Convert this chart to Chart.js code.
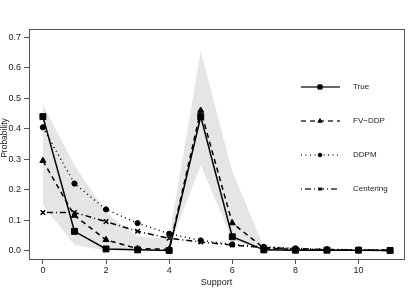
<!DOCTYPE html>
<html>
<head>
<meta charset="utf-8">
<script src="https://cdn.jsdelivr.net/npm/chart.js@4/dist/chart.umd.min.js"></script>
<style>
  html, body { margin: 0; padding: 0; background: #fff; }
  #wrap { width: 419px; height: 297px; }
</style>
</head>
<body>
<div id="wrap"><canvas id="myChart" width="419" height="297"></canvas></div>
<script>
const support = [0, 1, 2, 3, 4, 5, 6, 7, 8, 9, 10, 11];
const trueP = [0.44, 0.063, 0.005, 0.002, 0.0, 0.44, 0.045, 0.002, 0.001, 0.001, 0.001, 0.0];
const fvddp = [0.295, 0.115, 0.035, 0.006, 0.004, 0.46, 0.09, 0.008, 0.003, 0.001, 0.001, 0.0];
const ddpm = [0.405, 0.22, 0.135, 0.09, 0.055, 0.033, 0.02, 0.012, 0.007, 0.004, 0.002, 0.001];
const centering = [0.125, 0.125, 0.095, 0.063, 0.04, 0.028, 0.018, 0.01, 0.006, 0.003, 0.002, 0.001];
const bandUpper = [0.48, 0.28, 0.125, 0.045, 0.04, 0.655, 0.26, 0.012, 0.005, 0.003, 0.002, 0.001];
const bandLower = [0.15, 0.018, 0.0, 0.0, 0.01, 0.28, 0.035, 0.0, 0.0, 0.0, 0.0, 0.0];
const xTicks = [0, 2, 4, 6, 8, 10];
const yTicks = [0.0, 0.1, 0.2, 0.3, 0.4, 0.5, 0.6, 0.7];
const labels = ["True", "FV\u2212DDP", "DDPM", "Centering"];

function pts(vals) {
  return support.map((x, i) => ({ x: x, y: vals[i] }));
}

const series = [
  { data: trueP, style: "rect", radius: 4.2, dash: [] },
  { data: fvddp, style: "triangle", radius: 3.5, dash: [5, 4] },
  { data: ddpm, style: "circle", radius: 2.6, dash: [1, 3.5] },
  { data: centering, style: "crossRot", radius: 3.2, dash: [1, 3, 6, 3] },
];

const datasets = series.map((s, i) => ({
  label: labels[i],
  data: pts(s.data),
  borderColor: "#000",
  backgroundColor: "#000",
  borderWidth: 1.5,
  borderDash: s.dash,
  pointStyle: s.style,
  pointRadius: s.radius,
  pointBorderWidth: s.style === "crossRot" ? 1.5 : 1,
  pointBackgroundColor: "#000",
  pointBorderColor: "#000",
  fill: false,
  tension: 0,
}));

datasets.push({
  label: "upper",
  data: pts(bandUpper),
  borderWidth: 0,
  pointRadius: 0,
  fill: false,
});
datasets.push({
  label: "lower",
  data: pts(bandLower),
  borderWidth: 0,
  pointRadius: 0,
  backgroundColor: "#e5e5e5",
  fill: "-1",
});

const boxPlugin = {
  id: "box",
  afterDraw(chart) {
    const { ctx, chartArea: a } = chart;
    ctx.save();
    ctx.strokeStyle = "#555";
    ctx.lineWidth = 1;
    ctx.strokeRect(Math.round(a.left) + 0.5, Math.round(a.top) + 0.5,
      Math.round(a.right - a.left), Math.round(a.bottom - a.top));

    // axis titles
    ctx.fillStyle = "#222";
    ctx.font = "9px 'Liberation Sans', Arial, sans-serif";
    ctx.textAlign = "center";
    ctx.textBaseline = "middle";
    ctx.fillText("Support", (a.left + a.right) / 2, 283);
    ctx.save();
    ctx.translate(5, 138);
    ctx.rotate(-Math.PI / 2);
    ctx.font = "8.5px 'Liberation Sans', Arial, sans-serif";
    ctx.fillText("Probability", 0, 0);
    ctx.restore();

    // legend
    const rowY = [87, 121, 155, 189];
    ctx.font = "8px 'Liberation Sans', Arial, sans-serif";
    ctx.textAlign = "left";
    series.forEach((s, i) => {
      const y = rowY[i];
      ctx.save();
      ctx.strokeStyle = "#333";
      ctx.lineWidth = 1.5;
      ctx.setLineDash(s.dash);
      ctx.beginPath();
      ctx.moveTo(301, y);
      ctx.lineTo(340, y);
      ctx.stroke();
      ctx.restore();
      ctx.save();
      ctx.fillStyle = "#000";
      ctx.strokeStyle = "#000";
      ctx.lineWidth = s.style === "crossRot" ? 1.3 : 1;
      Chart.helpers.drawPoint(ctx, { pointStyle: s.style, radius: s.radius * 0.7, rotation: 0, borderWidth: ctx.lineWidth }, 320, y);
      ctx.restore();
      ctx.fillStyle = "#222";
      ctx.fillText(labels[i], 353, y);
    });
    ctx.restore();
  },
};

const tickFont = { family: "'Liberation Sans', Arial, sans-serif", size: 9 };

const ctx = document.getElementById("myChart").getContext("2d");
const myChart = new Chart(ctx, {
  type: "line",
  data: { datasets: datasets },
  options: {
    responsive: false,
    animation: false,
    layout: { padding: { top: 29, right: 15, left: 0, bottom: 0 } },
    plugins: {
      legend: { display: false },
      tooltip: { enabled: false },
      filler: { drawTime: "beforeDatasetsDraw" },
    },
    scales: {
      x: {
        type: "linear",
        min: -0.44,
        max: 11.44,
        afterBuildTicks: (s) => { s.ticks = xTicks.map((v) => ({ value: v })); },
        afterFit: (s) => { s.height = 38; },
        ticks: { color: "#222", font: tickFont, padding: 1, maxRotation: 0 },
        grid: { drawOnChartArea: false, drawTicks: true, tickLength: 5, color: "#555" },
        border: { display: false },
      },
      y: {
        type: "linear",
        min: -0.028,
        max: 0.728,
        afterBuildTicks: (s) => { s.ticks = yTicks.map((v) => ({ value: v })); },
        afterFit: (s) => { s.width = 29; },
        ticks: { color: "#222", font: tickFont, padding: 3, callback: (v) => v.toFixed(1) },
        grid: { drawOnChartArea: false, drawTicks: true, tickLength: 5, color: "#555" },
        border: { display: false },
      },
    },
  },
  plugins: [boxPlugin],
});
</script>
</body>
</html>
